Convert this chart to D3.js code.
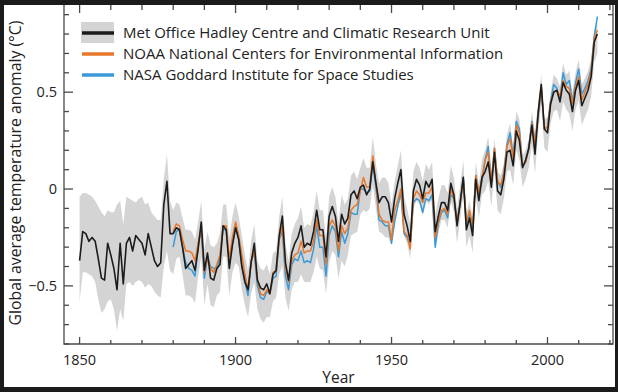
<!DOCTYPE html>
<html lang="en">
<head>
<meta charset="UTF-8">
<title>Global average temperature anomaly</title>
<script src="https://cdn.jsdelivr.net/npm/d3@7"></script>
<style>
  body { margin: 0; padding: 0; background: #1b1b1b; }
  svg text { font-family: "Open Sans", "Liberation Sans", Arial, sans-serif; fill: #222222; }
</style>
</head>
<body>
<div id="chart"></div>
<script>
// annual anomalies (°C, vs 1961-1990)
const hadStart = 1850;
const had = [
  -0.37,-0.22,-0.23,-0.27,-0.25,-0.27,-0.36,-0.46,-0.47,-0.28,
  -0.34,-0.41,-0.52,-0.28,-0.49,-0.28,-0.25,-0.32,-0.24,-0.26,
  -0.28,-0.34,-0.23,-0.30,-0.37,-0.40,-0.38,-0.08,0.04,-0.23,
  -0.23,-0.20,-0.21,-0.30,-0.41,-0.39,-0.37,-0.42,-0.31,-0.17,
  -0.42,-0.33,-0.46,-0.47,-0.41,-0.39,-0.19,-0.21,-0.41,-0.29,
  -0.20,-0.26,-0.40,-0.48,-0.52,-0.38,-0.28,-0.47,-0.51,-0.52,
  -0.49,-0.54,-0.44,-0.42,-0.24,-0.14,-0.38,-0.47,-0.33,-0.28,
  -0.25,-0.19,-0.30,-0.28,-0.29,-0.22,-0.11,-0.21,-0.21,-0.35,
  -0.14,-0.09,-0.14,-0.27,-0.13,-0.18,-0.15,-0.03,-0.01,-0.05,
  0.01,0.02,-0.03,0.00,0.14,0.03,-0.07,-0.04,-0.04,-0.07,
  -0.17,-0.05,0.03,0.10,-0.13,-0.19,-0.27,-0.01,0.05,0.02,
  -0.05,0.04,0.01,0.05,-0.22,-0.14,-0.07,-0.07,-0.11,0.03,
  -0.03,-0.19,-0.07,0.06,-0.21,-0.15,-0.24,0.05,-0.06,0.06,
  0.09,0.14,0.01,0.19,-0.01,-0.03,0.05,0.19,0.20,0.12,
  0.30,0.25,0.11,0.15,0.21,0.33,0.18,0.39,0.54,0.31,
  0.29,0.44,0.50,0.51,0.45,0.55,0.51,0.49,0.40,0.51,
  0.56,0.43,0.47,0.51,0.58,0.76,0.80
];
// grey range around the Met Office series
const bandHigh = [
  -0.04,-0.02,-0.02,-0.03,-0.04,-0.06,-0.09,-0.12,-0.14,-0.11,
  -0.12,-0.12,-0.08,-0.06,-0.18,-0.04,-0.05,-0.06,-0.07,-0.05,
  -0.04,-0.08,-0.07,-0.12,-0.14,-0.16,-0.16,0.05,0.18,-0.06,
  -0.11,-0.07,-0.08,-0.15,-0.21,-0.21,-0.22,-0.26,-0.17,-0.06,
  -0.31,-0.22,-0.29,-0.30,-0.28,-0.23,-0.08,-0.08,-0.25,-0.14,
  -0.07,-0.14,-0.24,-0.34,-0.42,-0.27,-0.18,-0.37,-0.41,-0.42,
  -0.39,-0.44,-0.33,-0.32,-0.14,-0.04,-0.28,-0.37,-0.23,-0.18,
  -0.15,-0.09,-0.20,-0.18,-0.19,-0.12,-0.01,-0.11,-0.11,-0.25,
  -0.04,0.01,-0.04,-0.17,-0.03,-0.08,-0.05,0.07,0.09,0.05,
  0.11,0.16,0.11,0.11,0.27,0.13,0.03,0.06,0.06,0.03,
  -0.08,0.04,0.12,0.20,-0.04,-0.10,-0.18,0.09,0.14,0.11,
  0.04,0.13,0.10,0.14,-0.13,-0.05,0.02,0.02,-0.02,0.12,
  0.06,-0.10,0.02,0.15,-0.12,-0.06,-0.15,0.14,0.03,0.15,
  0.20,0.27,0.09,0.26,0.09,0.07,0.13,0.28,0.34,0.22,
  0.40,0.36,0.17,0.20,0.26,0.40,0.29,0.45,0.59,0.36,
  0.37,0.50,0.59,0.57,0.53,0.65,0.59,0.61,0.50,0.60,
  0.67,0.54,0.57,0.61,0.67,0.82,0.85
];
const bandLow = [
  -0.58,-0.43,-0.43,-0.44,-0.45,-0.48,-0.57,-0.64,-0.62,-0.58,
  -0.57,-0.62,-0.73,-0.62,-0.68,-0.49,-0.48,-0.50,-0.48,-0.47,
  -0.48,-0.51,-0.49,-0.50,-0.53,-0.55,-0.56,-0.40,-0.32,-0.42,
  -0.44,-0.36,-0.35,-0.44,-0.55,-0.55,-0.56,-0.59,-0.45,-0.35,
  -0.60,-0.49,-0.60,-0.61,-0.55,-0.53,-0.35,-0.35,-0.55,-0.43,
  -0.38,-0.40,-0.52,-0.60,-0.66,-0.54,-0.48,-0.62,-0.67,-0.69,
  -0.66,-0.66,-0.58,-0.56,-0.44,-0.40,-0.56,-0.63,-0.52,-0.48,
  -0.48,-0.44,-0.48,-0.48,-0.48,-0.43,-0.35,-0.41,-0.42,-0.54,
  -0.38,-0.32,-0.34,-0.46,-0.37,-0.40,-0.34,-0.24,-0.23,-0.22,
  -0.13,-0.11,-0.12,-0.10,0.02,-0.10,-0.22,-0.23,-0.25,-0.25,
  -0.29,-0.18,-0.10,-0.04,-0.24,-0.28,-0.36,-0.10,-0.06,-0.08,
  -0.14,-0.06,-0.08,-0.05,-0.31,-0.23,-0.16,-0.16,-0.20,-0.06,
  -0.12,-0.28,-0.16,-0.03,-0.30,-0.24,-0.33,-0.04,-0.15,-0.03,
  -0.01,0.04,-0.09,0.09,-0.11,-0.13,-0.05,0.09,0.10,0.02,
  0.20,0.15,0.01,0.05,0.11,0.23,0.08,0.29,0.44,0.21,
  0.19,0.34,0.40,0.41,0.35,0.45,0.41,0.39,0.30,0.41,
  0.46,0.33,0.37,0.41,0.48,0.66,0.70
];
const otherStart = 1880;
const noaa = [
  -0.22,-0.18,-0.19,-0.26,-0.32,-0.32,-0.33,-0.37,-0.28,-0.20,
  -0.43,-0.35,-0.41,-0.43,-0.39,-0.34,-0.19,-0.19,-0.36,-0.25,
  -0.17,-0.24,-0.34,-0.44,-0.52,-0.37,-0.32,-0.47,-0.54,-0.55,
  -0.52,-0.54,-0.43,-0.42,-0.26,-0.19,-0.41,-0.48,-0.37,-0.34,
  -0.33,-0.27,-0.33,-0.32,-0.32,-0.27,-0.16,-0.24,-0.24,-0.39,
  -0.19,-0.16,-0.19,-0.32,-0.19,-0.23,-0.20,-0.11,-0.09,-0.08,
  -0.01,0.06,0.01,0.01,0.17,0.03,-0.13,-0.16,-0.17,-0.17,
  -0.26,-0.11,-0.06,0.00,-0.22,-0.24,-0.31,-0.05,-0.01,-0.03,
  -0.07,-0.02,-0.02,0.01,-0.25,-0.17,-0.11,-0.10,-0.13,0.00,
  -0.05,-0.16,-0.08,0.05,-0.17,-0.11,-0.19,0.07,-0.02,0.06,
  0.15,0.19,0.04,0.21,0.04,0.02,0.08,0.22,0.26,0.16,
  0.33,0.29,0.12,0.14,0.21,0.34,0.23,0.40,0.53,0.31,
  0.32,0.45,0.50,0.51,0.48,0.56,0.53,0.52,0.44,0.53,
  0.58,0.46,0.50,0.54,0.61,0.78,0.82
];
const nasa = [
  -0.30,-0.22,-0.21,-0.30,-0.38,-0.41,-0.42,-0.45,-0.29,-0.21,
  -0.46,-0.35,-0.40,-0.41,-0.41,-0.35,-0.21,-0.21,-0.38,-0.28,
  -0.19,-0.26,-0.39,-0.48,-0.55,-0.37,-0.33,-0.50,-0.56,-0.57,
  -0.53,-0.54,-0.46,-0.45,-0.26,-0.22,-0.45,-0.52,-0.39,-0.36,
  -0.37,-0.32,-0.38,-0.37,-0.38,-0.31,-0.19,-0.30,-0.30,-0.45,
  -0.24,-0.19,-0.22,-0.35,-0.22,-0.28,-0.23,-0.12,-0.13,-0.13,
  0.00,0.00,-0.02,-0.01,0.13,0.01,-0.16,-0.17,-0.19,-0.19,
  -0.28,-0.17,-0.09,-0.02,-0.23,-0.25,-0.29,-0.07,-0.05,-0.06,
  -0.12,-0.05,-0.06,-0.03,-0.30,-0.18,-0.12,-0.11,-0.15,-0.03,
  -0.05,-0.16,-0.08,0.06,-0.19,-0.12,-0.22,0.07,-0.02,0.04,
  0.15,0.22,0.03,0.21,0.04,0.01,0.08,0.23,0.29,0.17,
  0.35,0.31,0.12,0.14,0.21,0.35,0.24,0.37,0.52,0.31,
  0.32,0.45,0.54,0.52,0.46,0.60,0.54,0.56,0.45,0.55,
  0.62,0.49,0.52,0.56,0.62,0.79,0.89
];
const legendLabels = [
  "Met Office Hadley Centre and Climatic Research Unit",
  "NOAA National Centers for Environmental Information",
  "NASA Goddard Institute for Space Studies"
];
const xMajor = [1850, 1900, 1950, 2000];
const yMajor = [-0.5, 0, 0.5];

const W = 618, H = 392;
const colBlack = "#1c1c1c", colOrange = "#e8772a", colBlue = "#3a9ad8", colBand = "#d4d4d4";
const axisCol = "#4a4a4a";

const svg = d3.select("#chart").append("svg")
    .attr("width", W).attr("height", H);

svg.append("rect").attr("width", W).attr("height", H).attr("fill", "#1b1b1b");
svg.append("rect").attr("x", 4).attr("y", 5).attr("width", 611).attr("height", 382).attr("fill", "#ffffff");

const pLeft = 64, pRight = 613, pTop = 5, pBottom = 344;
const x = d3.scaleLinear().domain([1845, 2021]).range([pLeft, pRight]);
const y = d3.scaleLinear().domain([-0.8, 0.95]).range([pBottom, pTop]);

const hadRows = had.map((v, i) => ({yr: hadStart + i, v: v, lo: bandLow[i], hi: bandHigh[i]}));
const noaaRows = noaa.map((v, i) => ({yr: otherStart + i, v: v}));
const nasaRows = nasa.map((v, i) => ({yr: otherStart + i, v: v}));

// uncertainty band
const area = d3.area().x(d => x(d.yr)).y0(d => y(d.lo)).y1(d => y(d.hi));
svg.append("path").datum(hadRows).attr("d", area).attr("fill", colBand);

const line = d3.line().x(d => x(d.yr)).y(d => y(d.v));
svg.append("path").datum(nasaRows).attr("d", line)
    .attr("fill", "none").attr("stroke", colBlue).attr("stroke-width", 1.5).attr("stroke-linejoin", "round");
svg.append("path").datum(noaaRows).attr("d", line)
    .attr("fill", "none").attr("stroke", colOrange).attr("stroke-width", 1.5).attr("stroke-linejoin", "round");
svg.append("path").datum(hadRows).attr("d", line)
    .attr("fill", "none").attr("stroke", colBlack).attr("stroke-width", 1.6).attr("stroke-linejoin", "round");

// frame + ticks
const xTicks = d3.range(1850, 2021, 10);
const yTicks = d3.range(-8, 10).map(k => k / 10);

const axisG = svg.append("g").attr("stroke", axisCol).attr("stroke-width", 1.3).attr("fill", "none");
axisG.append("path").attr("d", `M${pLeft},${pTop}V${pBottom}H${pRight}V${pTop}`);

xTicks.forEach(t => {
  const big = xMajor.includes(t);
  axisG.append("line").attr("x1", x(t)).attr("x2", x(t))
      .attr("y1", pBottom).attr("y2", pBottom - (big ? 7 : 4));
  axisG.append("line").attr("x1", x(t)).attr("x2", x(t))
      .attr("y1", pTop).attr("y2", pTop + (big ? 8 : 5));
});
yTicks.forEach(t => {
  const big = yMajor.some(m => Math.abs(m - t) < 1e-6);
  axisG.append("line").attr("x1", pLeft).attr("x2", pLeft + (big ? 9 : 5))
      .attr("y1", y(t)).attr("y2", y(t));
  axisG.append("line").attr("x1", pRight).attr("x2", pRight - (big ? 9 : 5))
      .attr("y1", y(t)).attr("y2", y(t));
});

svg.selectAll("text.xlab").data(xMajor).enter().append("text")
    .attr("class", "xlab")
    .attr("x", d => x(d)).attr("y", 365)
    .attr("text-anchor", "middle").attr("font-size", 14.5)
    .text(d => d);

svg.selectAll("text.ylab").data(yMajor).enter().append("text")
    .attr("class", "ylab")
    .attr("x", 57).attr("y", d => y(d) + 5)
    .attr("text-anchor", "end").attr("font-size", 14.5)
    .text(d => d === 0 ? "0" : (d < 0 ? "\u2212" + Math.abs(d) : d));

svg.append("text").attr("x", (pLeft + pRight) / 2).attr("y", 383)
    .attr("text-anchor", "middle").attr("font-size", 15.5).text("Year");

svg.append("text").attr("transform", "translate(21,173) rotate(-90)")
    .attr("text-anchor", "middle").attr("font-size", 15.8)
    .text("Global average temperature anomaly (\u00B0C)");

// legend
const leg = svg.append("g");
leg.append("rect").attr("x", 81).attr("y", 22).attr("width", 33).attr("height", 21).attr("fill", colBand);
const legCols = [colBlack, colOrange, colBlue];
const legY = [33, 54, 75];
legendLabels.forEach((lab, i) => {
  leg.append("line").attr("x1", 82).attr("x2", 114).attr("y1", legY[i]).attr("y2", legY[i])
      .attr("stroke", legCols[i]).attr("stroke-width", 3.5);
  leg.append("text").attr("x", 123).attr("y", legY[i] + 5).attr("font-size", 15).text(lab);
});
</script>
</body>
</html>
